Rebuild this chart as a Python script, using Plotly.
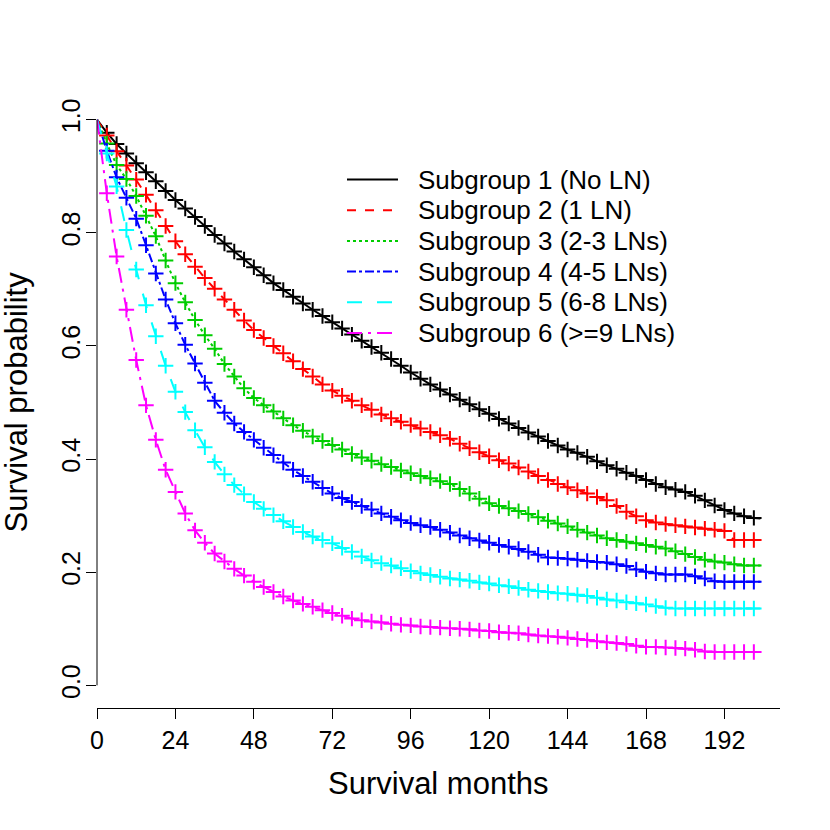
import plotly.graph_objects as go

MONTHS = list(range(0, 202, 3)) + [203]

S1 = [1.000, 0.977, 0.957, 0.940, 0.923, 0.907, 0.891, 0.874, 0.858, 0.843,
      0.828, 0.812, 0.796, 0.781, 0.767, 0.753, 0.739, 0.725, 0.711, 0.699,
      0.687, 0.675, 0.664, 0.653, 0.642, 0.631, 0.620, 0.609, 0.598, 0.588,
      0.577, 0.565, 0.553, 0.542, 0.532, 0.523, 0.514, 0.505, 0.497, 0.488,
      0.480, 0.471, 0.463, 0.455, 0.447, 0.440, 0.432, 0.424, 0.417, 0.411,
      0.404, 0.396, 0.389, 0.383, 0.376, 0.370, 0.363, 0.356, 0.350, 0.346,
      0.342, 0.335, 0.327, 0.318, 0.310, 0.304, 0.299, 0.296, 0.295]
S2 = [1.000, 0.972, 0.944, 0.919, 0.894, 0.867, 0.840, 0.812, 0.785, 0.762,
      0.740, 0.720, 0.701, 0.682, 0.664, 0.645, 0.628, 0.614, 0.600, 0.587,
      0.573, 0.559, 0.546, 0.532, 0.521, 0.512, 0.503, 0.495, 0.487, 0.479,
      0.472, 0.466, 0.460, 0.454, 0.448, 0.442, 0.436, 0.427, 0.419, 0.412,
      0.405, 0.398, 0.392, 0.385, 0.378, 0.370, 0.363, 0.356, 0.350, 0.345,
      0.339, 0.333, 0.327, 0.317, 0.307, 0.299, 0.292, 0.288, 0.285, 0.283,
      0.281, 0.279, 0.277, 0.275, 0.273, 0.257, 0.257, 0.257, 0.257]
S3 = [1.000, 0.958, 0.920, 0.895, 0.865, 0.830, 0.794, 0.751, 0.711, 0.677,
      0.646, 0.619, 0.595, 0.568, 0.546, 0.525, 0.508, 0.495, 0.484, 0.472,
      0.460, 0.450, 0.440, 0.432, 0.425, 0.417, 0.409, 0.403, 0.397, 0.391,
      0.386, 0.380, 0.375, 0.370, 0.366, 0.361, 0.356, 0.347, 0.339, 0.330,
      0.322, 0.317, 0.313, 0.308, 0.303, 0.297, 0.291, 0.286, 0.281, 0.275,
      0.270, 0.265, 0.260, 0.257, 0.254, 0.251, 0.248, 0.245, 0.242, 0.237,
      0.232, 0.227, 0.222, 0.219, 0.217, 0.214, 0.212, 0.212, 0.212]
S4 = [1.000, 0.945, 0.898, 0.862, 0.825, 0.778, 0.728, 0.682, 0.640, 0.602,
      0.569, 0.535, 0.503, 0.482, 0.463, 0.448, 0.434, 0.420, 0.407, 0.394,
      0.381, 0.370, 0.360, 0.349, 0.339, 0.331, 0.324, 0.317, 0.311, 0.304,
      0.298, 0.292, 0.287, 0.283, 0.280, 0.275, 0.270, 0.265, 0.260, 0.256,
      0.252, 0.248, 0.245, 0.241, 0.236, 0.231, 0.226, 0.225, 0.224, 0.222,
      0.220, 0.218, 0.217, 0.214, 0.211, 0.205, 0.201, 0.198, 0.196, 0.196,
      0.196, 0.193, 0.189, 0.184, 0.183, 0.183, 0.183, 0.183, 0.183]
S5 = [1.000, 0.940, 0.882, 0.805, 0.735, 0.672, 0.617, 0.565, 0.519, 0.483,
      0.451, 0.421, 0.395, 0.373, 0.354, 0.338, 0.324, 0.312, 0.301, 0.290,
      0.280, 0.271, 0.263, 0.257, 0.251, 0.243, 0.236, 0.228, 0.221, 0.216,
      0.212, 0.207, 0.202, 0.198, 0.195, 0.192, 0.189, 0.187, 0.185, 0.182,
      0.180, 0.177, 0.175, 0.172, 0.169, 0.167, 0.165, 0.163, 0.162, 0.160,
      0.158, 0.155, 0.152, 0.150, 0.147, 0.145, 0.143, 0.140, 0.137, 0.136,
      0.136, 0.136, 0.136, 0.136, 0.136, 0.136, 0.136, 0.136, 0.136]
S6 = [1.000, 0.870, 0.758, 0.664, 0.575, 0.495, 0.434, 0.381, 0.342, 0.304,
      0.274, 0.252, 0.233, 0.219, 0.206, 0.194, 0.183, 0.174, 0.165, 0.157,
      0.150, 0.144, 0.139, 0.133, 0.128, 0.123, 0.118, 0.115, 0.113, 0.111,
      0.109, 0.107, 0.106, 0.104, 0.103, 0.102, 0.101, 0.100, 0.099, 0.097,
      0.096, 0.094, 0.093, 0.092, 0.090, 0.088, 0.087, 0.086, 0.084, 0.082,
      0.080, 0.078, 0.076, 0.075, 0.073, 0.070, 0.068, 0.068, 0.067, 0.066,
      0.065, 0.063, 0.060, 0.059, 0.059, 0.059, 0.059, 0.059, 0.059]

NAMES = ["Subgroup 1 (No LN)", "Subgroup 2 (1 LN)", "Subgroup 3 (2-3 LNs)",
         "Subgroup 4 (4-5 LNs)", "Subgroup 5 (6-8 LNs)", "Subgroup 6 (>=9 LNs)"]
SERIES = [S1, S2, S3, S4, S5, S6]
COLORS = ["black", "#FF0000", "#00CD00", "#0000FF", "#00FFFF", "#FF00FF"]
DASHES = ["solid", "dash", "dot", "dashdot", "longdash", "longdashdot"]

X_TICKS = [0, 24, 48, 72, 96, 120, 144, 168, 192]
Y_TICKS = [0.0, 0.2, 0.4, 0.6, 0.8, 1.0]

FONT = "Liberation Sans, Arial, sans-serif"

# plot area in page pixels (left, right, top, bottom)
PL, PR, PT, PB = 97, 780, 97, 708
PW, PH = PR - PL, PB - PT

fig = go.Figure()

for name, ys, col, dash in zip(NAMES, SERIES, COLORS, DASHES):
    fig.add_trace(
        go.Scatter(
            x=MONTHS,
            y=ys,
            mode="lines",
            line=dict(color=col, width=2, dash=dash),
            showlegend=False,
            name=name,
        )
    )
    # censor marks
    fig.add_trace(
        go.Scatter(
            x=MONTHS[1:-1],
            y=ys[1:-1],
            mode="markers",
            marker=dict(symbol="cross-thin", size=11,
                        line=dict(width=2, color=col)),
            showlegend=False,
            hoverinfo="skip",
        )
    )

# y axis line only spans 0..1 like base R
fig.add_shape(type="line", xref="paper", yref="y", x0=0, x1=0, y0=0, y1=1,
              line=dict(color="black", width=1))

# legend drawn by hand (no box)
L_X0, L_X1, L_TX = (347 - PL) / PW, (398 - PL) / PW, (416 - PL) / PW
for i, (name, col, dash) in enumerate(zip(NAMES, COLORS, DASHES)):
    yp = (PB - (179.5 + i * 30.7)) / PH
    fig.add_shape(type="line", xref="paper", yref="paper",
                  x0=L_X0, x1=L_X1, y0=yp, y1=yp,
                  line=dict(color=col, width=2, dash=dash))
    fig.add_annotation(x=L_TX, y=yp, xref="paper", yref="paper",
                       text=name, showarrow=False, xanchor="left",
                       yanchor="middle",
                       font=dict(size=26, color="black", family=FONT))

# axis titles
fig.add_annotation(x=0.5, y=0, xref="paper", yref="paper", yshift=-(783 - PB),
                   text="Survival months", showarrow=False,
                   xanchor="center", yanchor="middle",
                   font=dict(size=31, color="black", family=FONT))
fig.add_annotation(x=0, y=0.5, xref="paper", yref="paper", xshift=16 - PL,
                   text="Survival probability", showarrow=False, textangle=-90,
                   xanchor="center", yanchor="middle",
                   font=dict(size=31, color="black", family=FONT))

fig.update_xaxes(
    range=[0, 209],
    tickvals=X_TICKS,
    ticks="outside",
    ticklen=10,
    tickcolor="black",
    showline=True,
    linecolor="black",
    linewidth=1,
    showgrid=False,
    zeroline=False,
    automargin=False,
    tickfont=dict(size=25, color="black", family=FONT),
)
fig.update_yaxes(
    range=[-0.04, 1.04],
    tickvals=Y_TICKS,
    ticktext=[f"{v:.1f}" for v in Y_TICKS],
    tickangle=-90,
    ticks="outside",
    ticklen=10,
    tickcolor="black",
    ticklabelstandoff=-4,
    showline=False,
    showgrid=False,
    zeroline=False,
    automargin=False,
    tickfont=dict(size=25, color="black", family=FONT),
)

fig.update_layout(
    width=830,
    height=830,
    margin=dict(l=PL, r=830 - PR, t=PT, b=830 - PB),
    paper_bgcolor="white",
    plot_bgcolor="white",
    showlegend=False,
    font=dict(family=FONT),
)

# drop the browser's default 8px body margin so the figure sits at 0,0
fig.write_html("out.html", config={"displayModeBar": False},
               post_script="document.body.style.margin='0';")
